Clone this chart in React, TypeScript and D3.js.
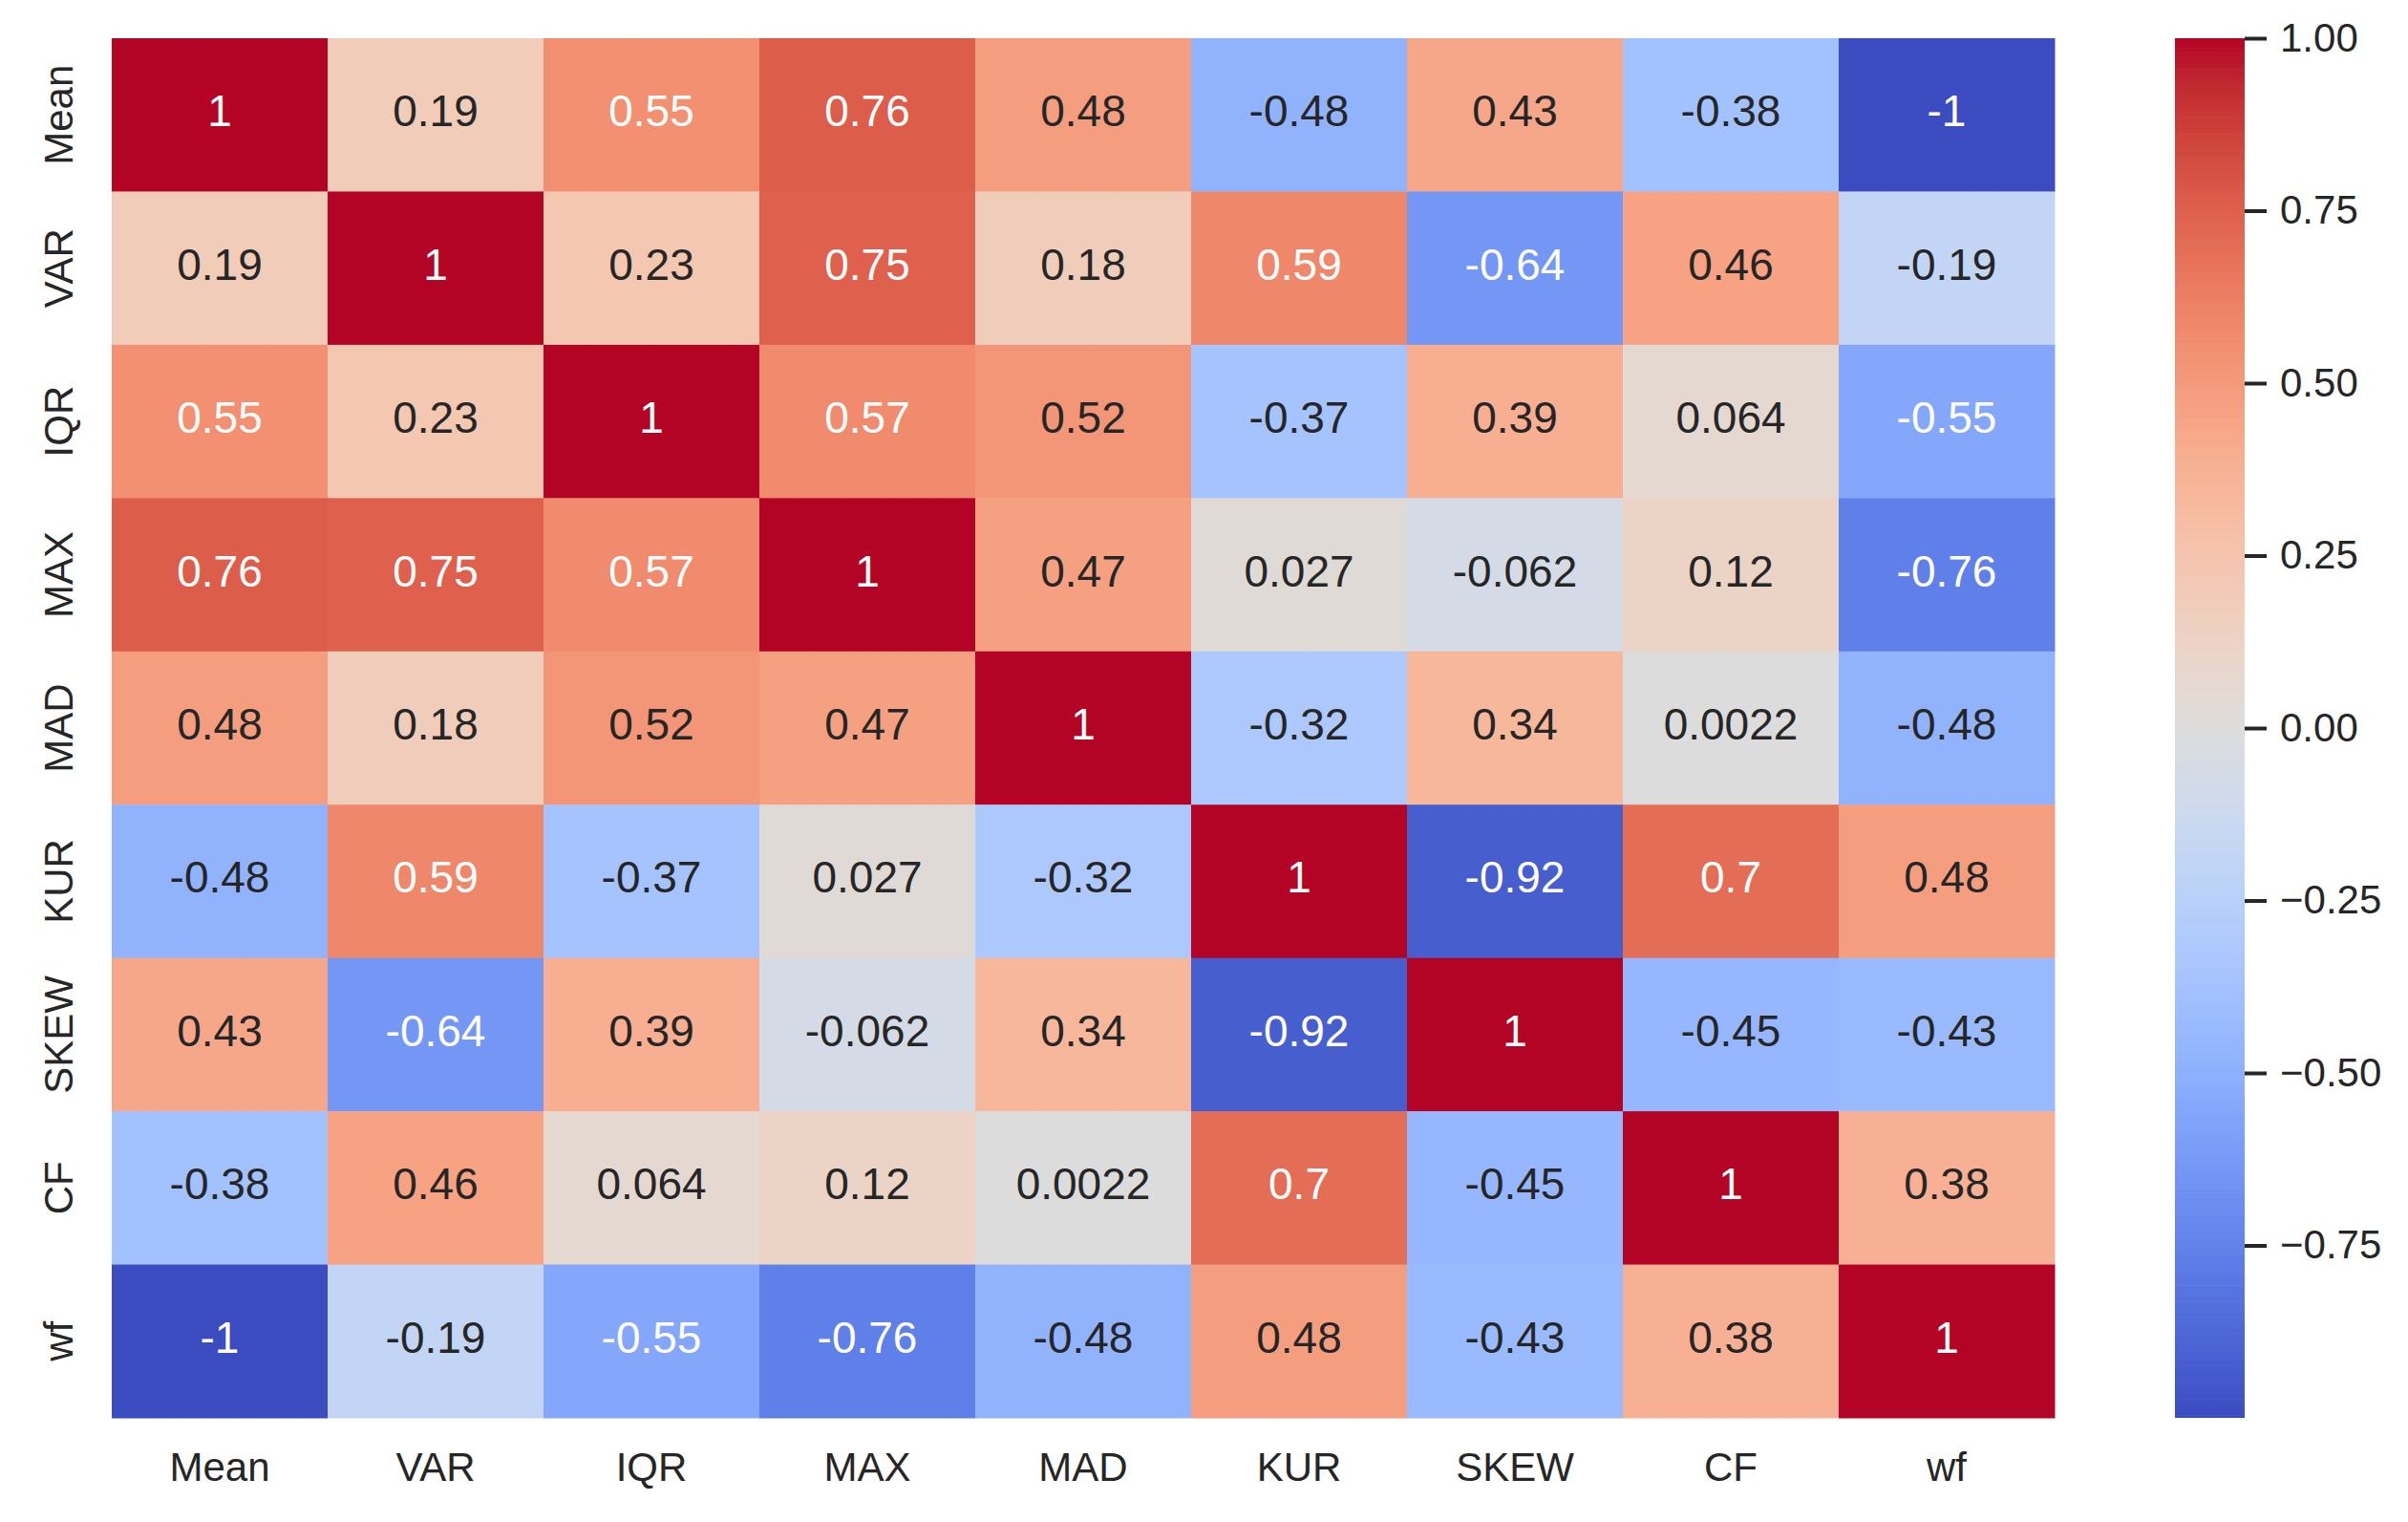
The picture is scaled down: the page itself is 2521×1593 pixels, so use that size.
import { useEffect, useRef } from "react";
import * as d3 from "d3";

const labels = ["Mean", "VAR", "IQR", "MAX", "MAD", "KUR", "SKEW", "CF", "wf"];

const corr: number[][] = [
  [1, 0.19, 0.55, 0.76, 0.48, -0.48, 0.43, -0.38, -1],
  [0.19, 1, 0.23, 0.75, 0.18, 0.59, -0.64, 0.46, -0.19],
  [0.55, 0.23, 1, 0.57, 0.52, -0.37, 0.39, 0.064, -0.55],
  [0.76, 0.75, 0.57, 1, 0.47, 0.027, -0.062, 0.12, -0.76],
  [0.48, 0.18, 0.52, 0.47, 1, -0.32, 0.34, 0.0022, -0.48],
  [-0.48, 0.59, -0.37, 0.027, -0.32, 1, -0.92, 0.7, 0.48],
  [0.43, -0.64, 0.39, -0.062, 0.34, -0.92, 1, -0.45, -0.43],
  [-0.38, 0.46, 0.064, 0.12, 0.0022, 0.7, -0.45, 1, 0.38],
  [-1, -0.19, -0.55, -0.76, -0.48, 0.48, -0.43, 0.38, 1],
];

const colorbarTicks = [1, 0.75, 0.5, 0.25, 0, -0.25, -0.5, -0.75];

// coolwarm (Moreland) control colours, evenly spaced from -1 to 1
const coolwarmStops = [
  "#3b4cc0", "#445acc", "#4d68d7", "#5775e1", "#6282ea", "#6c8ef1", "#779af7",
  "#82a5fb", "#8db0fe", "#98b9ff", "#a3c2ff", "#aec9fd", "#b8d0f9", "#c2d5f4",
  "#ccd9ee", "#d5dbe6", "#dddcdc", "#e5d8d1", "#ecd3c5", "#f1ccb9", "#f5c4ad",
  "#f7bba0", "#f7b194", "#f7a687", "#f49a7b", "#f18d6f", "#ec7f63", "#e57058",
  "#de604d", "#d55042", "#cb3e38", "#c0282f", "#b40426",
];

const font = "'Liberation Sans', Arial, sans-serif";
const textDark = "#262626";

function luminance(c: string) {
  const rgb = d3.rgb(c);
  const lin = [rgb.r, rgb.g, rgb.b].map((v) => {
    const s = v / 255;
    return s <= 0.03928 ? s / 12.92 : Math.pow((s + 0.055) / 1.055, 2.4);
  });
  return 0.2126 * lin[0] + 0.7152 * lin[1] + 0.0722 * lin[2];
}

const App = () => {
  const svgRef = useRef<SVGSVGElement | null>(null);
  const width = 2521;
  const height = 1593;

  useEffect(() => {
    const svg = d3.select(svgRef.current);
    svg.selectAll("*").remove();

    const margin = { left: 117, top: 40 };
    const gridW = 2151 - margin.left;
    const gridH = 1484 - margin.top;

    const x = d3.scaleBand().domain(labels).range([0, gridW]);
    const y = d3.scaleBand().domain(labels).range([0, gridH]);

    const color = d3
      .scaleLinear<string>()
      .domain(d3.range(coolwarmStops.length).map((i) => -1 + (2 * i) / (coolwarmStops.length - 1)))
      .range(coolwarmStops)
      .interpolate(d3.interpolateRgb)
      .clamp(true);

    const fmt = (v: number) => d3.format(".2~g")(v).replace("\u2212", "-");

    const g = svg.append("g").attr("transform", `translate(${margin.left},${margin.top})`);

    const cells = labels.flatMap((r, i) =>
      labels.map((c, j) => ({ r, c, v: corr[i][j] }))
    );

    g.selectAll("rect.cell")
      .data(cells)
      .enter()
      .append("rect")
      .attr("class", "cell")
      .attr("x", (d) => x(d.c)!)
      .attr("y", (d) => y(d.r)!)
      .attr("width", x.bandwidth() + 0.5)
      .attr("height", y.bandwidth() + 0.5)
      .attr("fill", (d) => color(d.v));

    g.selectAll("text.annot")
      .data(cells)
      .enter()
      .append("text")
      .attr("class", "annot")
      .attr("x", (d) => x(d.c)! + x.bandwidth() / 2)
      .attr("y", (d) => y(d.r)! + y.bandwidth() / 2 + 12)
      .attr("text-anchor", "middle")
      .attr("font-family", font)
      .attr("font-size", 46)
      .attr("fill", (d) => (luminance(color(d.v)) > 0.408 ? textDark : "#ffffff"))
      .text((d) => fmt(d.v));

    // x tick labels
    g.selectAll("text.xlab")
      .data(labels)
      .enter()
      .append("text")
      .attr("class", "xlab")
      .attr("x", (d) => x(d)! + x.bandwidth() / 2)
      .attr("y", 1550 - margin.top)
      .attr("text-anchor", "middle")
      .attr("font-family", font)
      .attr("font-size", 42)
      .attr("fill", textDark)
      .text((d) => d);

    // y tick labels (rotated)
    g.selectAll("text.ylab")
      .data(labels)
      .enter()
      .append("text")
      .attr("class", "ylab")
      .attr("transform", (d) => `translate(${76 - margin.left},${y(d)! + y.bandwidth() / 2}) rotate(-90)`)
      .attr("text-anchor", "middle")
      .attr("font-family", font)
      .attr("font-size", 42)
      .attr("fill", textDark)
      .text((d) => d);

    // colorbar
    const cbX = 2277;
    const cbW = 73;
    const cb = d3.scaleLinear().domain([-1, 1]).range([1484, 40]);
    const steps = d3.range(0, 256).map((i) => -1 + (2 * i) / 255);
    const stepH = (cb(-1) - cb(1)) / 255;
    svg
      .append("g")
      .selectAll("rect")
      .data(steps)
      .enter()
      .append("rect")
      .attr("x", cbX)
      .attr("y", (d) => cb(d) - stepH / 2)
      .attr("width", cbW)
      .attr("height", stepH + 0.6)
      .attr("fill", (d) => color(d));
    // trim overshoot at ends
    svg.append("rect").attr("x", cbX - 1).attr("y", 0).attr("width", cbW + 2).attr("height", 40).attr("fill", "#fff");
    svg.append("rect").attr("x", cbX - 1).attr("y", 1484).attr("width", cbW + 2).attr("height", 20).attr("fill", "#fff");

    const axis = svg
      .append("g")
      .attr("transform", `translate(${cbX + cbW},0)`)
      .call(
        d3
          .axisRight(cb)
          .tickValues(colorbarTicks)
          .tickSize(23)
          .tickPadding(14)
          .tickFormat((d) => d3.format(".2f")(d as number))
      );
    axis.select(".domain").remove();
    axis.selectAll(".tick line").attr("stroke", textDark).attr("stroke-width", 4);
    axis
      .selectAll(".tick text")
      .attr("font-family", font)
      .attr("font-size", 42)
      .attr("fill", textDark);
  }, []);

  return (
    <svg
      ref={svgRef}
      width={width}
      height={height}
      style={{ position: "absolute", left: 0, top: 0, background: "#fff" }}
    ></svg>
  );
};

export default App;
